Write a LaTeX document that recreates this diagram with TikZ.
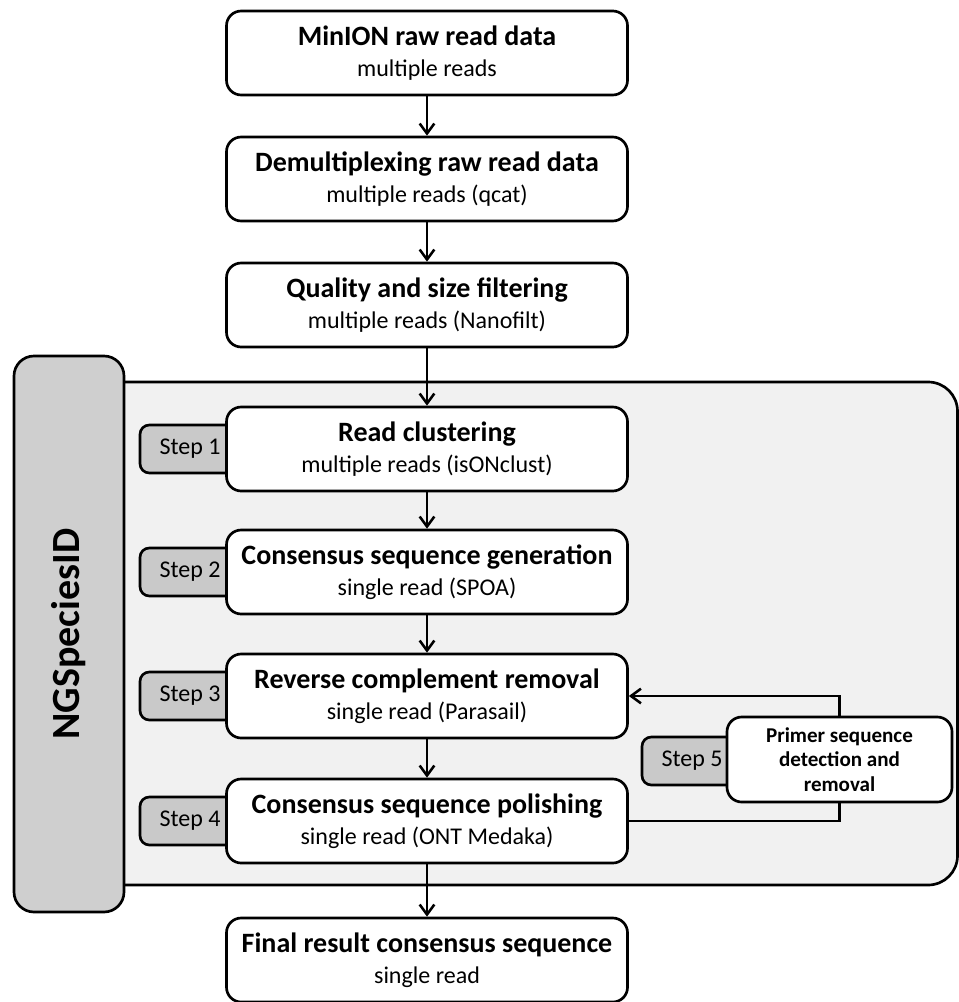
\documentclass[tikz,border=0pt]{standalone}
\usepackage{fontspec}
\setmainfont{Carlito}
\usetikzlibrary{arrows.meta}
\definecolor{panelgray}{HTML}{F1F1F1}
\definecolor{nggray}{HTML}{CFCFCF}
\definecolor{stepgray}{HTML}{C9C9C9}
\newcommand{\stagetitle}[1]{{\fontsize{21}{24}\selectfont\bfseries #1}}

\begin{document}
\begin{tikzpicture}[x=0.75pt,y=-0.75pt,line width=1.9pt,
  >={Straight Barb[length=7.5pt,width=11pt]},
  stage/.style={draw,line width=2pt,rounded corners=11pt,fill=white,
    minimum width=300.75pt,minimum height=63pt,inner sep=0pt,align=center,
    font=\fontsize{18}{23}\selectfont},
  steptab/.style={draw,line width=2pt,rounded corners=7pt,fill=stepgray,
    minimum width=75pt,minimum height=36pt,inner sep=0pt,
    font=\fontsize{18}{20}\selectfont},
  ngtab/.style={draw,line width=2pt,rounded corners=15pt,fill=nggray,
    minimum width=417pt,minimum height=82.5pt,inner sep=0pt,rotate=90,
    font=\fontsize{30}{34}\selectfont\bfseries}]
\useasboundingbox (0,0) rectangle (959,1002);
% NGSpeciesID panel behind the inner steps
\draw[line width=2pt,fill=panelgray,rounded corners=22pt]
  (40,382) -- (957.5,382) -- (957.5,885) -- (40,885) -- cycle;
\node[ngtab] (ng) at (69,634) {NGSpeciesID};
% step tabs
\node[steptab] (s1) at (190,449) {Step 1};
\node[steptab] (s2) at (190,572) {Step 2};
\node[steptab] (s3) at (190,696) {Step 3};
\node[steptab] (s4) at (190,821) {Step 4};
\node[steptab] (s5) at (692,761) {Step 5};
% main chain of stages
\node[stage] (raw) at (427,53) {\stagetitle{MinION raw read data}\\multiple reads};
\node[stage] (demux) at (427,179) {\stagetitle{Demultiplexing raw read data}\\multiple reads (qcat)};
\node[stage] (filt) at (427,305) {\stagetitle{Quality and size filtering}\\multiple reads (Nanofilt)};
\node[stage] (clust) at (427,449) {\stagetitle{Read clustering}\\multiple reads (isONclust)};
\node[stage] (cons) at (427,572) {\stagetitle{Consensus sequence generation}\\single read (SPOA)};
\node[stage] (revc) at (427,696) {\stagetitle{Reverse complement removal}\\single read (Parasail)};
\node[stage] (polish) at (427,821) {\stagetitle{Consensus sequence polishing}\\single read (ONT Medaka)};
\node[stage] (final) at (427,960) {\stagetitle{Final result consensus sequence}\\single read};
% primer box
\node[stage,minimum width=168.75pt,minimum height=63.75pt,
  font=\fontsize{15.8}{18.5}\selectfont\bfseries] (primer) at (839.5,759.5)
  {Primer sequence\\detection and\\removal};
% arrows down the chain
\draw[->] (raw) -- (demux);
\draw[->] (demux) -- (filt);
\draw[->] (filt) -- (clust);
\draw[->] (clust) -- (cons);
\draw[->] (cons) -- (revc);
\draw[->] (revc) -- (polish);
\draw[->] (polish) -- (final);
% loop through step 5
\draw (polish.east) -| (primer.south);
\draw[->] (primer.north) |- (revc.east);
\end{tikzpicture}
\end{document}
